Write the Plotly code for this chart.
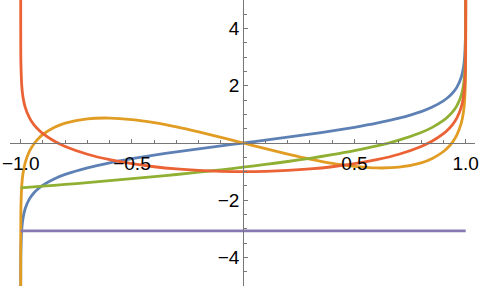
import plotly.graph_objects as go

# ---------------- data ----------------
x_main = [-0.999999, -0.99999, -0.9999, -0.999, -0.995, -0.99, -0.98, -0.96, -0.94, -0.92,
          -0.9, -0.85, -0.8, -0.7, -0.6, -0.5, -0.4, -0.3, -0.2, -0.1, 0.0,
          0.1, 0.2, 0.3, 0.4, 0.5, 0.6, 0.7, 0.8, 0.85, 0.9, 0.92, 0.94, 0.96, 0.98,
          0.99, 0.995, 0.999, 0.9999, 0.99999, 0.999999]

blue_y = [-7.2543, -6.1030, -4.9517, -3.8002, -2.9945, -2.6467, -2.2976, -1.9459, -1.7380, -1.5890,
          -1.4722, -1.2562, -1.0986, -0.8673, -0.6931, -0.5493, -0.4236, -0.3095, -0.2027, -0.1003, 0.0,
          0.1003, 0.2027, 0.3095, 0.4236, 0.5493, 0.6931, 0.8673, 1.0986, 1.2562, 1.4722, 1.5890, 1.7380,
          1.9459, 2.2976, 2.6467, 2.9945, 3.8002, 4.9517, 6.1030, 7.2543]

orange_y = [-5.7543, -4.6028, -3.4504, -2.2903, -1.4572, -1.0827, -0.6911, -0.2771, -0.0245, 0.1571,
            0.2974, 0.5417, 0.6946, 0.8462, 0.8723, 0.8187, 0.7101, 0.5630, 0.3892, 0.1987, 0.0,
            -0.1987, -0.3892, -0.5630, -0.7101, -0.8187, -0.8723, -0.8462, -0.6946, -0.5417, -0.2974,
            -0.1571, 0.0245, 0.2771, 0.6911, 1.0827, 1.4572, 2.2903, 3.4504, 4.6028, 5.7543]

red_y = [6.2543, 5.1029, 3.9512, 2.7964, 1.9795, 1.6202, 1.2516, 0.8681, 0.6337, 0.4619,
         0.3250, 0.0678, -0.1211, -0.3929, -0.5841, -0.7253, -0.8306, -0.9072, -0.9595, -0.9900, -1.0,
         -0.9900, -0.9595, -0.9072, -0.8306, -0.7253, -0.5841, -0.3929, -0.1211, 0.0678, 0.3250,
         0.4619, 0.6337, 0.8681, 1.2516, 1.6202, 1.9795, 2.7964, 3.9512, 5.1029, 6.2543]

x_green = [-1.0, -0.9, -0.8, -0.7, -0.6, -0.5, -0.4, -0.3, -0.2, -0.1, 0.0, 0.1, 0.2, 0.3, 0.4,
           0.5, 0.6, 0.7, 0.8, 0.85, 0.9, 0.92, 0.94, 0.96, 0.98, 0.99, 0.995, 0.999, 0.9999, 0.99999]
green_y = [-1.5708, -1.5109, -1.4491, -1.3849, -1.3185, -1.2492, -1.1768, -1.1011, -1.0213, -0.9368,
           -0.8472, -0.7511, -0.6473, -0.5340, -0.4080, -0.2656, -0.0998, 0.1022, 0.3686, 0.5467,
           0.7874, 0.9151, 1.0760, 1.2969, 1.6637, 2.0216, 2.3744, 3.1849, 4.3377, 5.4894]

x_purple = [-1.0, -0.5, 0.0, 0.5, 1.0]
purple_y = [-3.07, -3.07, -3.07, -3.07, -3.07]

x_tick_vals = [-1.0, -0.5, 0.5, 1.0]
x_tick_text = ["\u22121.0", "\u22120.5", "0.5", "1.0"]
x_minor_vals = [-1.0, -0.9, -0.8, -0.7, -0.6, -0.5, -0.4, -0.3, -0.2, -0.1,
                0.1, 0.2, 0.3, 0.4, 0.5, 0.6, 0.7, 0.8, 0.9, 1.0]
y_tick_vals = [-4, -2, 2, 4]
y_tick_text = ["\u22124", "\u22122", "2", "4"]
y_minor_vals = [-5.0, -4.5, -4.0, -3.5, -3.0, -2.5, -2.0, -1.5, -1.0, -0.5,
                0.5, 1.0, 1.5, 2.0, 2.5, 3.0, 3.5, 4.0, 4.5, 5.0]

# ---------------- figure ----------------
series = [
    (x_main, blue_y, "#5E81B5"),
    (x_main, orange_y, "#E19C24"),
    (x_green, green_y, "#8FB032"),
    (x_main, red_y, "#EB6235"),
    (x_purple, purple_y, "#8778B3"),
]

fig = go.Figure()
for xs, ys, col in series:
    fig.add_trace(go.Scatter(x=xs, y=ys, mode="lines",
                             line=dict(color=col, width=2.8, shape="spline", smoothing=0.7),
                             hoverinfo="skip", showlegend=False))

axis_col = "#777777"
font = dict(family="Liberation Sans, Arial, sans-serif", size=19, color="black")

x_lo, x_hi = -1.0481, 1.0418
fig.update_layout(
    width=482, height=291,
    margin=dict(l=10, r=7, t=0, b=5),
    paper_bgcolor="white", plot_bgcolor="white",
    xaxis=dict(range=[x_lo, x_hi], anchor="free", position=0.5,
               showgrid=False, zeroline=False, showline=True,
               linecolor=axis_col, linewidth=1,
               tickmode="array", tickvals=x_tick_vals, ticktext=x_tick_text,
               ticks="inside", ticklen=4, tickcolor=axis_col, tickwidth=1,
               ticklabelstandoff=3,
               minor=dict(tickmode="array", tickvals=x_minor_vals, ticks="inside",
                          ticklen=3, tickcolor=axis_col, tickwidth=1),
               tickfont=font, fixedrange=True),
    yaxis=dict(range=[-5, 5], anchor="free", position=(0 - x_lo) / (x_hi - x_lo),
               showgrid=False, zeroline=False, showline=True,
               linecolor=axis_col, linewidth=1,
               tickmode="array", tickvals=y_tick_vals, ticktext=y_tick_text,
               ticks="inside", ticklen=4, tickcolor=axis_col, tickwidth=1,
               minor=dict(tickmode="array", tickvals=y_minor_vals, ticks="inside",
                          ticklen=3, tickcolor=axis_col, tickwidth=1),
               tickfont=font, fixedrange=True),
)

fig.write_html("out.html")
